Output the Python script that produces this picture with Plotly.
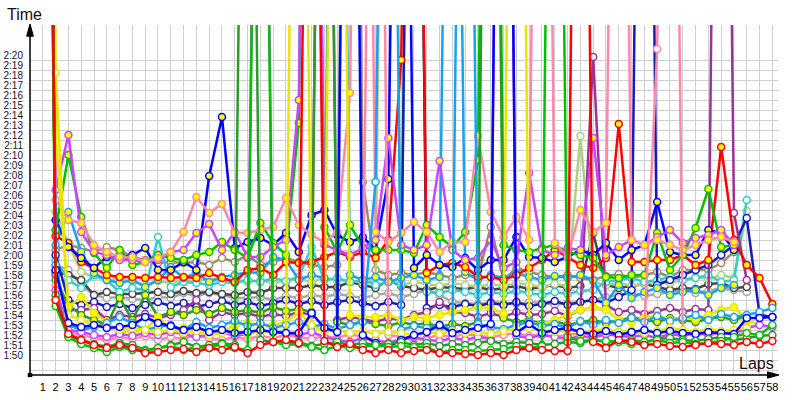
import plotly.graph_objects as go

laps = list(range(1, 59))
lap_labels = [str(n) for n in laps]
y_grid_values = [109, 110, 111, 112, 113, 114, 115, 116, 117, 118, 119, 120, 121, 122, 123, 124,
                 125, 126, 127, 128, 129, 130, 131, 132, 133, 134, 135, 136, 137, 138, 139, 140]
y_tick_labels = ["", "1:50", "1:51", "1:52", "1:53", "1:54", "1:55", "1:56", "1:57", "1:58", "1:59",
                 "2:00", "2:01", "2:02", "2:03", "2:04", "2:05", "2:06", "2:07", "2:08", "2:09",
                 "2:10", "2:11", "2:12", "2:13", "2:14", "2:15", "2:16", "2:17", "2:18", "2:19", "2:20"]

# lap times in seconds, lap 1..58 (None = not running)
red_1 = [260, 116.0, 112.6, 112.0, 111.5, 111.2, 111.5, 111.2, 110.7, 110.8,
         111.0, 111.1, 110.8, 111.2, 111.0, 111.3, 110.7, 111.5, 111.8, 112.0,
         111.7, 215, 111.9, 111.3, 111.6, 111.0, 110.7, 111.0, 110.7, 110.9,
         111.0, 110.7, 110.7, 110.6, 110.5, 110.7, 110.5, 111.0, 111.2, 111.0,
         110.9, 110.9, 230, 111.8, 111.2, 112.0, 111.8, 111.5, 111.6, 111.4,
         111.3, 111.5, 111.7, 111.6, 111.5, 111.8, 111.6, 111.9]
red_2 = [230, 122.4, 121.7, 119.8, 119.2, 118.5, 118.3, 118.3, 118.2, 118.3,
         118.2, 118.3, 118.2, 118.7, 118.2, 117.8, 119.0, 119.2, 118.5, 119.8,
         119.7, 119.8, 120.3, 120.8, 120.3, 120.8, 120.2, 122.0, 140.0, 220,
         118.7, 119.5, 119.7, 119.3, 118.3, 118.3, 118.0, 118.5, 119.2, 120.0,
         121.0, 120.3, 119.5, 119.2, 120.2, 133.6, 119.8, 119.8, 120.0, 120.0,
         120.5, 119.5, 120.0, 131.3, 122.0, 119.5, 118.2, 115.6]
blue_1 = [250, 119.0, 113.7, 113.3, 113.5, 113.2, 113.3, 113.5, 114.3, 113.7,
          113.4, 113.0, 113.3, 112.8, 113.0, 112.7, 112.8, 113.0, 112.8, 112.7,
          112.7, 114.7, 113.2, 112.8, 230, 112.5, 111.7, 111.3, 112.0, 112.5,
          112.8, 113.5, 112.7, 113.0, 113.2, 113.6, 240, 112.7, 113.6, 112.7,
          113.0, 113.2, 112.8, 112.6, 112.9, 112.5, 112.8, 113.0, 112.7, 112.9,
          112.7, 112.6, 112.8, 112.7, 112.6, 114.2, 114.2, 114.3]
blue_2 = [280, 124.0, 121.3, 120.2, 119.2, 120.3, 120.2, 120.5, 121.2, 119.0,
          119.0, 119.8, 119.0, 128.4, 134.3, 121.2, 121.8, 122.2, 121.5, 122.7,
          120.8, 124.5, 125.0, 122.5, 121.8, 122.3, 121.0, 128.1, 225, 119.2,
          120.5, 119.5, 119.3, 120.2, 119.0, 120.0, 120.0, 122.3, 120.3, 120.2,
          119.8, 120.3, 121.0, 120.5, 121.7, 120.0, 121.0, 121.5, 125.8, 120.8,
          120.5, 120.5, 123.0, 122.7, 121.0, None, None, None]
green_1 = [240, 115.4, 112.3, 111.6, 111.2, 110.8, 111.3, 111.0, 110.9, 111.2,
           111.4, 111.0, 111.3, 111.2, 111.6, 111.2, 111.0, 210, 111.8, 111.5,
           111.6, 111.3, 111.0, 111.4, 111.2, 111.3, 111.5, 111.3, 111.4, 111.3,
           111.3, 110.7, 111.0, 111.0, 110.9, 111.0, 111.1, 111.4, 111.2, 111.4,
           230, 112.3, 111.9, 112.0, 111.9, 111.8, 111.6, 111.8, 112.0, 111.7,
           111.8, 111.6, 111.7, 111.9, 112.3, 112.7, 112.5, 113.5]
green_2 = [300, 123.0, 130.5, 124.3, 120.7, 119.2, 121.0, 119.5, 119.8, 120.5,
           120.2, 120.0, 120.5, 120.8, 121.8, 121.0, 120.2, 123.7, 121.7, 120.5,
           133.7, 230, 123.3, 120.8, 123.5, 121.3, 121.0, 121.0, 121.0, 120.7,
           123.5, 122.3, 121.3, 122.8, 130.0, 240, 121.5, 121.0, 120.8, 121.2,
           121.5, 120.8, 120.5, 120.2, 118.3, 118.2, 118.5, 118.5, 122.7, 119.0,
           120.5, 123.2, 127.1, 121.3, 121.5, None, None, None]
dkgreen_1 = [270, 116.5, 112.4, 112.0, 111.6, 111.3, 111.7, 111.5, 111.0, 111.2,
             111.5, 111.8, 111.3, 111.5, 111.7, 111.5, 220, 112.0, 111.8, 111.6,
             111.8, 111.4, 111.6, 111.8, 111.5, 111.7, 111.5, 111.6, 111.8, 111.5,
             111.7, 111.4, 111.6, 111.5, 111.7, 111.9, 111.6, 111.8, 111.7, 111.5,
             111.6, 111.8, 111.7, 112.0, 111.8, 111.9, 112.0, 111.8, 112.1, 112.2,
             112.0, 111.9, 112.1, 112.3, 112.0, 112.2, 112.4, 112.5]
dkgreen_2 = [290, 118.0, 115.5, 114.5, 114.0, 113.5, 116.2, 114.0, 116.5, 114.3,
             114.8, 114.5, 115.0, 114.6, 115.2, 114.8, 115.0, 114.7, 115.3, 114.9,
             115.1, 114.8, 225, 113.8, 113.5, 113.9, 113.6, 113.4, 113.8, 113.5,
             113.7, 113.3, 113.6, 113.4, 113.8, 235, 114.2, 113.8, 114.0, 113.6,
             113.9, 113.5, 113.8, 114.0, 113.7, 113.9, 114.3, 114.0, 113.8, 114.2,
             114.0, 113.8, 114.1, 114.3, 114.0, 114.4, None, None]
yellow_1 = [350, 138.7, 114.5, 114.0, 113.5, 113.3, 113.0, 113.2, 113.0, 112.8,
            113.0, 112.7, 112.9, 112.5, 112.7, 112.8, 112.6, 112.9, 112.7, 112.7,
            225, 113.5, 112.8, 113.0, 112.7, 112.9, 112.6, 112.8, 112.7, 112.5,
            112.8, 112.6, 112.9, 112.7, 112.8, 112.6, 112.9, 113.1, 113.2, 113.0,
            112.8, 113.0, 112.7, 112.9, 113.1, 112.8, 113.0, 112.7, 112.9, 113.2,
            113.0, 112.8, 113.1, 112.9, 113.0, 113.2, None, None]
yellow_2 = [320, 132.7, 115.3, 116.3, 114.7, 113.8, 112.8, 112.8, 113.0, 114.3,
            113.0, 113.2, 113.3, 112.7, 112.8, 113.5, 113.7, 113.5, 113.5, 113.8,
            114.8, 113.5, 113.3, 220, 114.5, 114.3, 114.3, 114.5, 114.0, 114.3,
            114.2, 114.5, 114.8, 115.0, 115.3, 115.2, 114.6, 230, 113.8, 113.5,
            114.0, 114.5, 115.0, 115.3, 115.0, 114.0, 113.8, 114.2, 114.5, 114.0,
            114.3, 114.0, 114.5, 115.0, 115.3, 114.0, 113.5, None]
magenta_1 = [260, 117.0, 113.0, 112.8, 112.5, 112.3, 112.6, 112.4, 112.7, 112.5,
             112.8, 112.6, 112.3, 112.5, 112.8, 112.4, 112.6, 215, 112.9, 112.7,
             112.5, 112.8, 112.3, 112.0, 111.8, 112.2, 112.0, 111.7, 112.1, 112.3,
             112.0, 111.9, 112.2, 112.0, 112.3, 112.1, 240, 112.4, 112.2, 112.5,
             112.3, 112.1, 112.4, 112.2, 112.6, 112.4, 112.3, 112.5, 112.2, 112.6,
             112.4, 112.7, 112.5, 112.8, 112.6, 113.2, 113.5, 113.3]
magenta_2 = [310, 127.0, 132.5, 122.8, 120.8, 120.5, 120.0, 120.0, 119.8, 120.0,
             120.8, 121.0, 122.7, 123.6, 121.0, 122.8, 120.3, 120.3, 121.3, 122.0,
             136.0, 230, 121.5, 121.0, 120.5, 121.2, 122.0, 132.2, 121.5, 121.0,
             121.5, 129.9, 121.0, 120.0, 120.2, 122.0, 119.2, 119.8, 128.7, 121.0,
             120.5, 121.2, 121.0, 132.2, 120.5, 121.3, 122.0, 121.5, 122.3, 123.0,
             121.7, 122.2, 122.5, 123.0, 121.5, None, None, None]
pink_1 = [270, 117.5, 112.8, 112.5, 112.2, 112.0, 112.3, 112.1, 112.4, 112.0,
          112.3, 112.1, 112.5, 112.2, 112.0, 112.3, 112.1, 112.4, 112.2, 112.5,
          112.3, 112.1, 112.4, 112.2, 112.6, 112.3, 230, 112.5, 112.3, 112.0,
          112.2, 112.5, 112.3, 112.6, 112.4, 112.3, 112.5, 112.7, 112.4, 112.6,
          112.3, 112.5, 112.7, 112.4, 112.6, 112.8, 112.5, 113.0, 141.1, 230,
          112.8, 112.5, 112.7, 112.6, 112.8, 113.0, None, None]
pink_2 = [300, 126.0, 124.0, 123.7, 121.5, 120.8, 120.3, 120.3, 119.8, 120.2,
          120.8, 122.8, 126.3, 124.7, 125.6, 122.7, 122.7, 123.0, 123.3, 126.2,
          123.5, 122.5, 121.8, 122.8, 136.7, 230, 122.8, 121.8, 122.7, 123.8,
          122.8, 120.8, 121.8, 121.8, 132.4, 124.8, 122.3, 124.3, 122.0, 240,
          121.7, 120.3, 125.0, 122.8, 123.7, 230, 122.0, 121.5, 122.0, 121.5,
          121.0, 121.5, 122.0, 122.3, 121.8, None, None, None]
ltblue_1 = [280, 119.5, 113.5, 113.0, 113.3, 113.7, 114.3, 113.7, 113.0, 113.3,
            113.5, 113.0, 113.8, 113.2, 113.5, 113.9, 113.4, 113.7, 113.2, 113.5,
            113.8, 113.3, 113.6, 113.1, 113.5, 113.8, 127.8, 230, 113.0, 113.4,
            113.2, 113.5, 113.0, 225, 113.6, 113.3, 113.1, 113.5, 113.8, 113.4,
            113.6, 113.2, 113.9, 113.5, 114.0, 113.7, 114.2, 113.8, 114.4, 113.9,
            114.2, 114.5, 114.0, 114.6, 114.3, 114.5, 114.8, 115.2]
ltblue_2 = [260, 121.5, 124.8, 120.8, 118.7, 118.0, 117.7, 118.0, 117.3, 118.0,
            119.3, 118.2, 118.7, 117.8, 118.3, 118.5, 118.8, 118.7, 120.3, 120.0,
            118.0, 118.5, 118.2, 230, 118.5, 118.0, 118.3, 117.8, 118.2, 118.5,
            118.0, 118.3, 225, 118.8, 118.0, 118.5, 118.2, 118.7, 118.3, 118.0,
            118.4, 118.2, 118.5, 118.0, 115.7, 117.5, 116.2, 116.8, 117.2, 116.5,
            116.8, 117.0, 116.5, 117.2, 117.5, None, None, None]
cyan_1 = [250, 120.0, 118.0, 117.2, 118.5, 118.0, 116.8, 117.2, 117.0, 122.3,
          117.3, 117.8, 117.7, 117.5, 117.8, 117.7, 118.0, 117.8, 118.2, 117.9,
          118.3, 121.3, 118.0, 118.2, 117.8, 118.0, 117.5, 117.8, 117.6, 225,
          116.8, 116.7, 117.0, 116.8, 116.5, 116.8, 116.6, 116.9, 116.7, 116.5,
          116.8, 116.6, 116.9, 117.0, 117.8, 118.0, 118.2, 117.8, 118.0, 118.3,
          118.0, 118.2, 118.5, 117.8, 118.0, 126.0, None, None]
dkgray_1 = [240, 118.8, 118.5, 118.0, 116.5, 116.8, 116.6, 116.6, 116.7, 116.8,
            116.6, 116.9, 116.7, 116.8, 116.6, 116.5, 116.8, 116.7, 117.2, 117.2,
            117.2, 117.5, 117.3, 117.3, 117.8, 117.5, 117.2, 118.0, 117.4, 117.2,
            117.0, 117.3, 117.2, 117.1, 117.3, 117.0, 117.2, 117.4, 117.1, 117.3,
            117.5, 117.2, 117.4, 122.7, 117.5, 117.2, 117.4, 117.6, 117.3, 117.0,
            117.2, 117.1, 117.6, 117.7, 117.2, 117.3, None, None]
gray_1 = [230, 119.5, 119.0, 117.5, 116.5, 116.2, 116.3, 116.1, 116.0, 116.3,
          116.2, 116.7, 116.4, 116.7, 116.5, 116.2, 116.2, 116.3, 116.0, 116.4,
          116.2, 116.5, 116.3, 116.6, 116.4, 116.2, 116.5, 116.7, 116.3, 116.6,
          117.0, 116.5, 115.8, 115.7, 115.6, 115.8, 115.7, 115.6, 115.8, 115.7,
          115.5, 115.7, 115.8, 116.0, 116.3, 116.5, 116.7, 116.4, 116.6, 116.8,
          117.0, 116.7, 116.9, 117.2, 117.0, 116.8, None, None]
olive_1 = [250, 121.0, 121.5, 121.2, 120.8, 121.3, 121.0, 120.3, 120.0, 119.7,
           119.8, 119.7, 119.8, 119.5, 120.2, 119.8, 120.5, 119.5, 119.8, 120.2,
           119.8, 119.5, 119.3, 119.5, 230, 127.8, 119.0, 118.5, 118.7, 118.5,
           118.8, 118.5, 118.2, 118.5, 118.3, 123.3, 118.0, 119.2, 118.8, 118.5,
           118.3, 118.5, 118.2, 118.0, 118.4, 118.6, 118.2, 118.5, 118.8, 118.3,
           119.0, 119.0, 119.0, 119.7, 120.8, None, None, None]
ltgreen_1 = [240, 124.8, 121.7, 118.8, 118.3, 118.0, 118.2, 117.8, 117.6, 117.9,
             117.7, 118.0, 117.8, 118.2, 117.9, 118.1, 117.8, 118.0, 117.7, 117.9,
             118.1, 117.8, 118.2, 117.9, 118.0, 117.7, 118.0, 230, 117.5, 117.8,
             117.6, 117.4, 117.7, 117.5, 117.3, 117.6, 117.4, 117.7, 117.5, 117.3,
             117.6, 117.4, 132.4, 117.8, 117.5, 117.7, 117.4, 117.6, 117.9, 117.7,
             118.0, 118.3, 118.1, 118.5, 118.2, 124.9, None, None]
purple_1 = [280, 118.5, 115.0, 115.0, 115.2, 114.0, 114.5, 114.3, 114.6, 114.2,
            114.5, 115.0, 116.0, 114.0, 114.8, 114.5, 114.7, 114.3, 114.6, 114.4,
            114.8, 114.5, 225, 114.0, 114.3, 114.1, 113.8, 114.2, 114.0, 114.5,
            114.8, 115.8, 114.8, 114.7, 114.3, 114.7, 114.3, 114.8, 114.5, 114.6,
            114.9, 114.4, 115.0, 140.3, 115.5, 114.8, 115.0, 114.6, 114.9, 115.2,
            114.8, 115.1, 115.0, 240, 124.7, 118.0, None, None]
dkblue_1 = [270, 120.5, 116.0, 115.5, 115.8, 115.3, 115.6, 115.2, 115.5, 115.8,
            115.4, 115.7, 115.3, 115.6, 115.9, 115.5, 115.8, 115.4, 115.7, 116.0,
            115.6, 115.9, 115.5, 115.8, 116.0, 115.7, 115.4, 115.8, 115.5, 230,
            115.2, 115.5, 115.3, 115.6, 115.4, 115.7, 115.5, 115.8, 115.4, 115.6,
            115.9, 115.5, 115.8, 116.0, 115.7, 116.3, 117.0, 235, 117.5, 118.0,
            118.5, 119.0, 119.5, 120.5, 121.5, 124.2, 114.5, 114.3]

WHITE = "#ffffff"
YEL = "#ffff00"
series = [
    ("gray_1", gray_1, "#a8a8a8", WHITE),
    ("dkgray_1", dkgray_1, "#454545", WHITE),
    ("olive_1", olive_1, "#9c8c64", WHITE),
    ("ltgreen_1", ltgreen_1, "#b0d080", WHITE),
    ("cyan_1", cyan_1, "#33cccc", WHITE),
    ("dkblue_1", dkblue_1, "#1a1ab4", WHITE),
    ("purple_1", purple_1, "#993399", WHITE),
    ("ltblue_2", ltblue_2, "#1aa0f0", YEL),
    ("red_2", red_2, "#ff0000", YEL),
    ("blue_2", blue_2, "#0000ff", YEL),
    ("green_2", green_2, "#00c000", YEL),
    ("magenta_2", magenta_2, "#c846ff", YEL),
    ("pink_2", pink_2, "#ff88aa", YEL),
    ("dkgreen_2", dkgreen_2, "#2a9a2a", YEL),
    ("yellow_2", yellow_2, "#e6e600", YEL),
    ("ltblue_1", ltblue_1, "#1aa0f0", WHITE),
    ("pink_1", pink_1, "#ff88aa", WHITE),
    ("magenta_1", magenta_1, "#c846ff", WHITE),
    ("yellow_1", yellow_1, "#e6e600", WHITE),
    ("blue_1", blue_1, "#0000ff", WHITE),
    ("dkgreen_1", dkgreen_1, "#2a9a2a", WHITE),
    ("green_1", green_1, "#00c000", WHITE),
    ("red_1", red_1, "#ff0000", WHITE),
]

fig = go.Figure()
for name, vals, col, fill in series:
    fig.add_trace(go.Scatter(
        x=laps, y=vals, name=name, mode="lines+markers",
        line=dict(color=col, width=2.5),
        marker=dict(symbol="circle", size=7, color=fill, line=dict(color=col, width=1.5)),
        connectgaps=False, showlegend=False,
    ))

FONT = "Liberation Sans, Arial, sans-serif"
fig.update_layout(
    width=800, height=400,
    margin=dict(l=30, r=22, t=25, b=25, autoexpand=False),
    paper_bgcolor="white", plot_bgcolor="white",
    showlegend=False,
    xaxis=dict(range=[0, 58.44], tickmode="array", tickvals=laps, ticktext=lap_labels,
               showgrid=True, gridcolor="#cfcfcf", gridwidth=1, zeroline=False,
               showline=False, ticks="", ticklabelstandoff=4, tickangle=0, automargin=False,
               tickfont=dict(family=FONT, size=11, color="#000000")),
    yaxis=dict(range=[108.5, 143.5], tickmode="array", tickvals=y_grid_values, ticktext=y_tick_labels,
               showgrid=True, gridcolor="#cfcfcf", gridwidth=1, zeroline=False, automargin=False,
               showline=False, ticks="", ticklabelshift=-5, ticklabelstandoff=6,
               tickfont=dict(family=FONT, size=10, color="#1a1030")),
)

# axis lines with arrow heads
fig.add_shape(type="line", xref="paper", yref="paper", x0=0, x1=0, y0=0, y1=0.99,
              line=dict(color="black", width=1.5))
fig.add_shape(type="line", xref="paper", yref="paper", x0=0, x1=0.99, y0=0, y1=0,
              line=dict(color="black", width=1.5))
fig.add_shape(type="path", xref="paper", yref="paper",
              path="M -0.0045 0.968 L 0.0045 0.968 L 0 1.003 Z",
              fillcolor="black", line=dict(color="black", width=1))
fig.add_shape(type="path", xref="paper", yref="paper",
              path="M 0.986 -0.009 L 0.986 0.009 L 1.0013 0 Z",
              fillcolor="black", line=dict(color="black", width=1))
fig.add_shape(type="rect", xref="paper", yref="paper",
              x0=-0.003, x1=0.003, y0=-0.006, y1=0.006,
              fillcolor="black", line=dict(color="black", width=0))

fig.add_annotation(text="Time", xref="paper", yref="paper", x=-0.0334, y=1.031,
                   xanchor="left", yanchor="middle", showarrow=False,
                   font=dict(family=FONT, size=16, color="#1a0a0a"))
fig.add_annotation(text="Laps", xref="paper", yref="paper", x=0.9973, y=0.034,
                   xanchor="right", yanchor="middle", showarrow=False,
                   font=dict(family=FONT, size=16, color="#1a0a0a"))

fig.write_html("out.html")
